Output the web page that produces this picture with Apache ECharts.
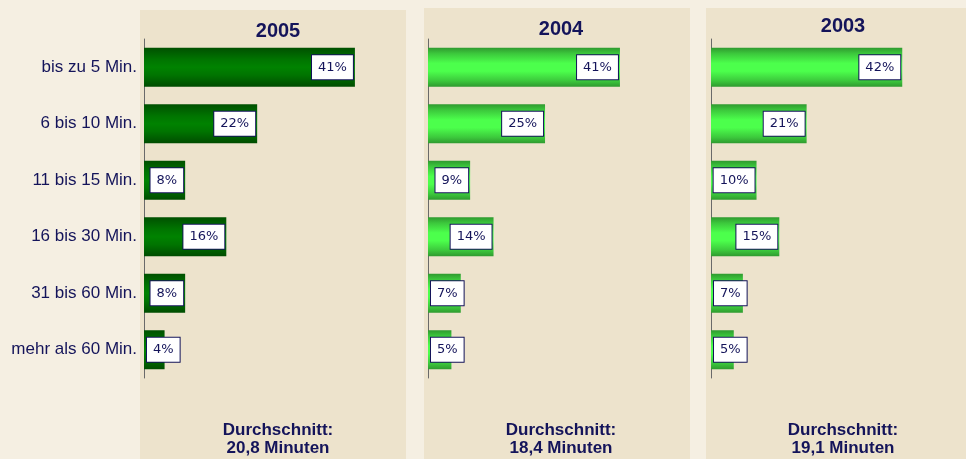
<!DOCTYPE html>
<html>
<head>
<meta charset="utf-8">
<script src="https://cdn.jsdelivr.net/npm/echarts@6/dist/echarts.min.js"></script>
<style>
  html, body { margin: 0; padding: 0; background: #f5efe2; }
  #chart { width: 966px; height: 459px; }
</style>
</head>
<body>
<div id="chart"></div>
<script>
// Fahrzeit zum Arbeitsplatz, drei Jahrgaenge
const categories = ['bis zu 5 Min.', '6 bis 10 Min.', '11 bis 15 Min.', '16 bis 30 Min.', '31 bis 60 Min.', 'mehr als 60 Min.'];
const years = ['2005', '2004', '2003'];
const values2005 = [41, 22, 8, 16, 8, 4];
const values2004 = [41, 25, 9, 14, 7, 5];
const values2003 = [42, 21, 10, 15, 7, 5];
const averages = ['20,8 Minuten', '18,4 Minuten', '19,1 Minuten'];

const chart = echarts.init(document.getElementById('chart'));

const navy = '#14145a';
const panels = [
  { x: 140, y: 10, w: 266, axisX: 144, max: 48.6, cx: 273, titleY: 16, data: values2005 },
  { x: 424, y: 8, w: 266, axisX: 428, max: 53.4, cx: 556, titleY: 14, data: values2004 },
  { x: 706, y: 8, w: 260, axisX: 711, max: 54.9, cx: 838, titleY: 11, data: values2003 }
];

const darkGreen = new echarts.graphic.LinearGradient(0, 0, 0, 1, [
  { offset: 0, color: '#005000' },
  { offset: 0.3, color: '#007400' },
  { offset: 0.5, color: '#008200' },
  { offset: 0.7, color: '#007400' },
  { offset: 1, color: '#004c00' }
]);
const lightGreen = new echarts.graphic.LinearGradient(0, 0, 0, 1, [
  { offset: 0, color: '#2f9a2f' },
  { offset: 0.15, color: '#3cc83c' },
  { offset: 0.4, color: '#4cff4c' },
  { offset: 0.6, color: '#4cff4c' },
  { offset: 0.85, color: '#3cc83c' },
  { offset: 1, color: '#2f9a2f' }
]);

const gridW = 250;
const grids = [], xAxes = [], yAxes = [], series = [], titles = [], rects = [];

panels.forEach(function (p, i) {
  rects.push({
    type: 'rect', z: -10,
    shape: { x: p.x, y: p.y, width: p.w, height: 459 - p.y },
    style: { fill: '#ede3cc' }
  });
  titles.push({
    text: years[i], left: p.cx, top: p.titleY, textAlign: 'center',
    textStyle: { fontFamily: 'Liberation Sans', fontSize: 20, fontWeight: 'bold', color: navy }
  });
  titles.push({
    text: 'Durchschnitt:\n' + averages[i], left: p.cx, top: 416, textAlign: 'center',
    textStyle: { fontFamily: 'Liberation Sans', fontSize: 17, fontWeight: 'bold', color: navy, lineHeight: 18 }
  });
  grids.push({ left: p.axisX, top: 39, width: gridW, height: 339 });
  xAxes.push({ gridIndex: i, type: 'value', min: 0, max: p.max, show: false });
  yAxes.push({
    gridIndex: i, type: 'category', data: categories, inverse: true,
    axisLine: { show: true, lineStyle: { color: '#6a6a6a', width: 1 } },
    axisTick: { show: false },
    axisLabel: {
      show: i === 0, margin: 7, color: navy,
      fontFamily: 'Liberation Sans', fontSize: 17
    }
  });
  const scale = gridW / p.max;
  series.push({
    type: 'bar', xAxisIndex: i, yAxisIndex: i, barWidth: 39,
    itemStyle: { color: i === 0 ? darkGreen : lightGreen },
    data: p.data.map(function (v) {
      const narrow = v * scale < 36;
      return {
        value: v,
        label: { position: narrow ? 'insideLeft' : 'insideRight', distance: narrow ? 3 : 2 }
      };
    }),
    label: {
      show: true,
      formatter: '{c}%',
      fontFamily: 'DejaVu Sans', fontSize: 13, color: navy,
      backgroundColor: '#ffffff', borderColor: navy, borderWidth: 1,
      padding: [6, 6, 5, 6]
    }
  });
});

chart.setOption({
  backgroundColor: '#f5efe2',
  animation: false,
  graphic: rects,
  title: titles,
  grid: grids,
  xAxis: xAxes,
  yAxis: yAxes,
  series: series
});
</script>
</body>
</html>
